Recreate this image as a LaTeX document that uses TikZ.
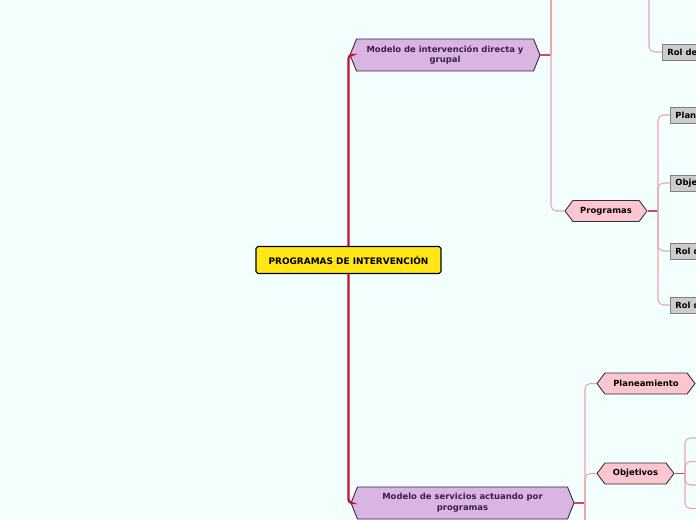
\documentclass[tikz,border=0pt]{standalone}
\usepackage{fontspec}
\setsansfont{DejaVu Sans}
\usetikzlibrary{shapes.symbols,calc}

\definecolor{bgmint}{RGB}{242,255,252}
\definecolor{rootyellow}{RGB}{255,230,20}
\definecolor{lilac}{RGB}{217,182,225}
\definecolor{lilacdark}{RGB}{60,30,70}
\definecolor{rosefill}{RGB}{251,198,208}
\definecolor{greyfill}{RGB}{204,204,204}
\definecolor{greyline}{RGB}{128,128,128}
\definecolor{trunkred}{RGB}{200,16,46}
\definecolor{branchpink}{RGB}{236,164,178}
\definecolor{stubred}{RGB}{214,70,96}

\begin{document}
\begin{tikzpicture}[
    x=0.02cm, y=-0.02cm,
    font=\sffamily\bfseries\fontsize{4.8}{6.2}\selectfont,
    rootbox/.style={draw=black, line width=0.6pt, fill=rootyellow, rounded corners=1pt,
        minimum width=3.7cm, minimum height=0.54cm, font=\sffamily\bfseries\fontsize{5.1}{6.2}\selectfont},
    topic/.style={signal, signal to=west and east, signal pointer angle=136, draw=lilacdark,
        line width=0.5pt, fill=lilac, text=lilacdark, align=center, minimum height=0.64cm, inner sep=1pt},
    subtopic/.style={signal, signal to=west and east, signal pointer angle=106, draw=black!80,
        line width=0.5pt, fill=rosefill, text=black, minimum height=0.42cm, inner sep=1pt},
    leaf/.style={draw=greyline, line width=0.5pt, fill=greyfill, text=black, anchor=west,
        minimum height=0.32cm, inner xsep=0.1cm, inner ysep=0pt},
    trunk/.style={trunkred, line width=1.3pt, rounded corners=2pt},
    branch/.style={branchpink, line width=0.6pt, rounded corners=3pt},
    stub/.style={stubred, line width=0.8pt}
]
\useasboundingbox (0,0) rectangle (696,520);
\fill[bgmint] (0,0) rectangle (696,520);
\clip (0,0) rectangle (696,520);

% central topic
\node[rootbox] (root) at (348.5,260) {PROGRAMAS DE INTERVENCIÓN};

% main topics
\node[topic, minimum width=3.8cm] (modA) at (445,55) {Modelo de intervención directa y\\grupal};
\node[topic, minimum width=4.46cm] (modB) at (462.5,503) {Modelo de servicios actuando por\\programas};

% subtopics
\node[subtopic, minimum width=1.64cm] (prog) at (606,211) {Programas};
\node[subtopic, minimum width=1.96cm] (plan) at (646,383.5) {Planeamiento};
\node[subtopic, minimum width=1.54cm] (obj) at (635.5,473.5) {Objetivos};

% leaves (cut by the right edge)
\node[leaf] (rolA) at (662,52) {Rol del docente};
\node[leaf] (progPlan) at (670,115) {Planeamiento};
\node[leaf] (progObj) at (670,183) {Objetivos};
\node[leaf] (progRolA) at (670,251) {Rol del docente};
\node[leaf] (progRolB) at (670,305) {Rol del estudiante};

% junctions and off-page ends
\coordinate (aj) at (551,55);
\coordinate (aup) at (551,-20);
\coordinate (rup) at (649,-20);
\coordinate (progj) at (658,211);
\coordinate (bj) at (585,503);
\coordinate (bdown) at (585,540);
\coordinate (planEnd) at (706,384);
\coordinate (objj) at (685,473.5);
\coordinate (objA) at (706,438);
\coordinate (objB) at (706,461.5);
\coordinate (objC) at (706,485);
\coordinate (objD) at (706,508.5);

% trunk
\draw[trunk] (root.north) |- (modA.west);
\draw[trunk] (root.south) |- (modB.west);

% first topic
\draw[stub] (modA.east) -- (aj);
\draw[branch] (aj) -- (aup);
\draw[branch] (aj) |- (prog.west);
\draw[branch] (rup) |- (rolA.west);

\draw[stub] (prog.east) -- (progj);
\foreach \leafname in {progPlan,progObj,progRolA,progRolB}
    \draw[branch] (progj) |- (\leafname.west);

% second topic
\draw[stub] (modB.east) -- (bj);
\draw[branch] (bj) |- (plan.west);
\draw[branch] (bj) |- (obj.west);
\draw[branch] (bj) -- (bdown);
\draw[stub] (plan.east) -- (planEnd);

\draw[stub] (obj.east) -- (objj);
\foreach \endname in {objA,objB,objC,objD}
    \draw[branch] (objj) |- (\endname);

\end{tikzpicture}
\end{document}
